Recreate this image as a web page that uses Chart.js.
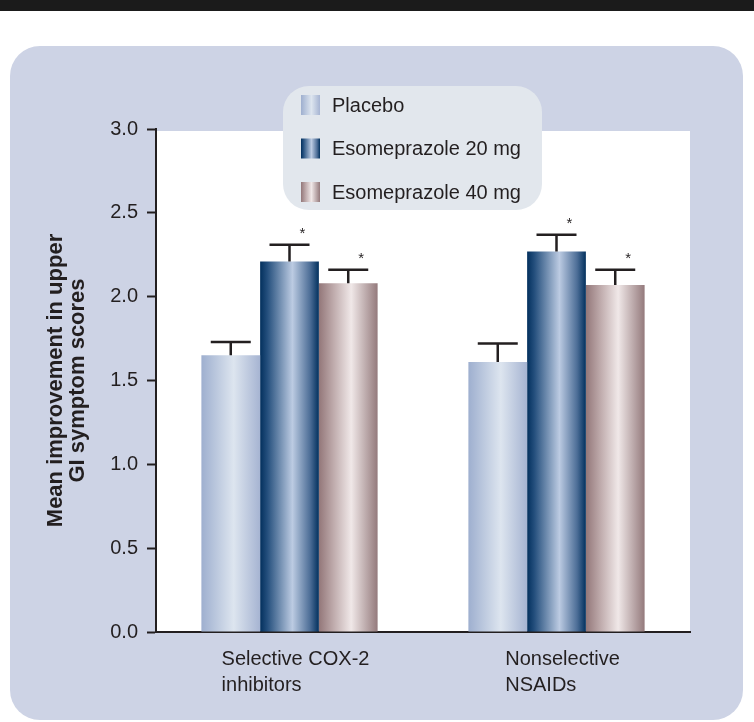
<!DOCTYPE html>
<html>
<head>
<meta charset="utf-8">
<script src="https://cdn.jsdelivr.net/npm/chart.js@4"></script>
<style>
  html, body { margin: 0; padding: 0; background: #fff; }
  canvas { display: block; }
</style>
</head>
<body>
<canvas id="gi" width="754" height="722"></canvas>
<script>
// ── Data ─────────────────────────────────────────────
const categories   = [['Selective COX-2', 'inhibitors'], ['Nonselective', 'NSAIDs']];
const seriesNames  = ['Placebo', 'Esomeprazole 20 mg', 'Esomeprazole 40 mg'];
const placebo      = [1.65, 1.61];
const esome20      = [2.21, 2.27];
const esome40      = [2.08, 2.07];
const placeboErr   = [0.08, 0.11];
const esome20Err   = [0.10, 0.10];
const esome40Err   = [0.08, 0.09];
const esome20Sig   = [true, true];
const esome40Sig   = [true, true];
const yTicks       = [0, 0.5, 1, 1.5, 2, 2.5, 3];

const FONT = "'Liberation Sans', Arial, sans-serif";
const INK  = '#231f20';
const CAT_PCT = 0.66;

// horizontal "cylinder" gradients per series
const stops = [
  [[0, '#9eafcf'], [0.55, '#dde5ef'], [1, '#a6b4d2']],
  [[0, '#03305d'], [0.12, '#234e7c'], [0.55, '#bccbe2'], [0.85, '#4d6e97'], [1, '#03315e']],
  [[0, '#937779'], [0.25, '#bfabac'], [0.55, '#f0e8e8'], [1, '#947a7c']],
];

function makeGrad(ctx, x0, x1, s) {
  const g = ctx.createLinearGradient(x0, 0, x1, 0);
  s.forEach(([o, c]) => g.addColorStop(o, c));
  return g;
}

function barFill(si) {
  return (c) => {
    const chart = c.chart, a = chart.chartArea;
    if (!a || c.dataIndex == null) return stops[si][1][1];
    const catW = a.width / categories.length;
    const bw = catW * CAT_PCT / 3;
    const center = chart.scales.x.getPixelForValue(c.dataIndex);
    const left = center + (si - 1.5) * bw;
    return makeGrad(chart.ctx, left, left + bw, stops[si]);
  };
}

const errors = [placeboErr, esome20Err, esome40Err];
const sigs   = [null, esome20Sig, esome40Sig];

// ── Plugins ──────────────────────────────────────────
const backdrop = {
  id: 'backdrop',
  beforeDraw(chart) {
    const { ctx, chartArea: a } = chart;
    ctx.save();
    ctx.fillStyle = '#ffffff';
    ctx.fillRect(0, 0, chart.width, chart.height);
    ctx.fillStyle = '#1b1b1b';
    ctx.fillRect(0, 0, chart.width, 11);
    ctx.fillStyle = '#cdd3e5';
    ctx.beginPath();
    ctx.roundRect(10, 46, 733, 674, 30);
    ctx.fill();
    ctx.fillStyle = '#ffffff';
    ctx.fillRect(a.left, a.top + 2, a.right - a.left, a.bottom - a.top - 2);
    ctx.restore();
  },
};

const errorBars = {
  id: 'errorBars',
  afterDatasetsDraw(chart) {
    const { ctx, scales: { y } } = chart;
    ctx.save();
    ctx.strokeStyle = INK;
    ctx.lineWidth = 2.5;
    ctx.fillStyle = INK;
    ctx.font = '15px ' + FONT;
    ctx.textAlign = 'center';
    ctx.textBaseline = 'middle';
    chart.data.datasets.forEach((ds, di) => {
      chart.getDatasetMeta(di).data.forEach((bar, i) => {
        const top = y.getPixelForValue(ds.data[i] + errors[di][i]);
        ctx.beginPath();
        ctx.moveTo(bar.x, bar.y);
        ctx.lineTo(bar.x, top);
        ctx.moveTo(bar.x - 20, top);
        ctx.lineTo(bar.x + 20, top);
        ctx.stroke();
        if (sigs[di] && sigs[di][i]) ctx.fillText('*', bar.x + 13, top - 11);
      });
    });
    ctx.restore();
  },
};

const catLabels = {
  id: 'catLabels',
  afterDraw(chart) {
    const { ctx, scales: { x } } = chart;
    ctx.save();
    ctx.fillStyle = INK;
    ctx.font = '20px ' + FONT;
    ctx.textAlign = 'left';
    ctx.textBaseline = 'middle';
    categories.forEach((lines, i) => {
      const w = Math.max(...lines.map(l => ctx.measureText(l).width));
      const left = x.getPixelForValue(i) + 6 - w / 2;
      lines.forEach((l, k) => ctx.fillText(l, left, 659 + k * 26));
    });
    ctx.restore();
  },
};

const legendBox = {
  id: 'legendBox',
  afterDraw(chart) {
    const { ctx } = chart;
    ctx.save();
    ctx.fillStyle = '#e2e7ed';
    ctx.beginPath();
    ctx.roundRect(283, 86, 259, 124, 26);
    ctx.fill();
    ctx.font = '20px ' + FONT;
    ctx.textAlign = 'left';
    ctx.textBaseline = 'middle';
    seriesNames.forEach((name, i) => {
      const cy = 105 + i * 43.5;
      ctx.fillStyle = makeGrad(ctx, 301, 320, stops[i]);
      ctx.fillRect(301, cy - 10, 19, 20);
      ctx.fillStyle = INK;
      ctx.fillText(name, 332, cy + 1);
    });
    ctx.restore();
  },
};

// ── Chart ────────────────────────────────────────────
new Chart(document.getElementById('gi'), {
  type: 'bar',
  plugins: [backdrop, errorBars, catLabels, legendBox],
  data: {
    labels: categories,
    datasets: [placebo, esome20, esome40].map((vals, si) => ({
      label: seriesNames[si],
      data: vals,
      backgroundColor: barFill(si),
      borderWidth: 0,
      categoryPercentage: CAT_PCT,
      barPercentage: 1,
    })),
  },
  options: {
    responsive: false,
    devicePixelRatio: 1,
    animation: false,
    layout: { padding: { top: 129, right: 64, bottom: 0, left: 0 } },
    plugins: { legend: { display: false }, tooltip: { enabled: false } },
    scales: {
      x: {
        grid: { display: false },
        border: { display: true, color: INK, width: 2 },
        ticks: { display: false },
        afterFit: (s) => { s.height = 90; },
      },
      y: {
        min: 0, max: 3,
        afterBuildTicks: (s) => { s.ticks = yTicks.map(v => ({ value: v })); },
        afterFit: (s) => { s.width = 156; },
        grid: { drawOnChartArea: false, tickLength: 9, tickWidth: 2, tickColor: INK },
        border: { display: true, color: INK, width: 2 },
        ticks: {
          color: INK, padding: 9,
          font: { family: FONT, size: 20 },
          callback: v => v.toFixed(1),
        },
        title: {
          display: true,
          text: ['Mean improvement in upper', 'GI symptom scores'],
          color: INK,
          font: { family: FONT, size: 22, weight: 'bold', lineHeight: 1.0 },
          padding: { top: 45, bottom: 0 },
        },
      },
    },
  },
});
</script>
</body>
</html>
